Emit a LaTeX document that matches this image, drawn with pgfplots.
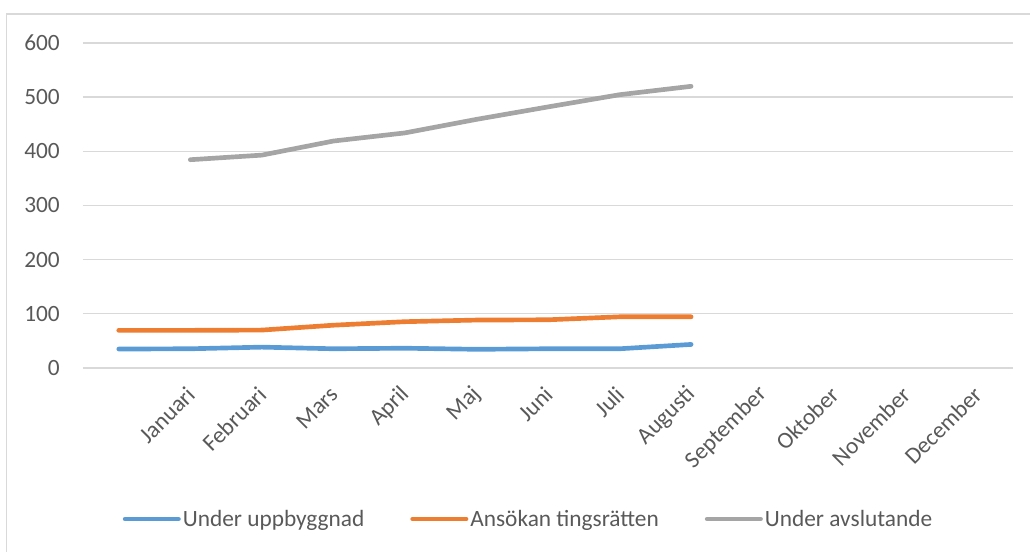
\documentclass[border=0pt]{standalone}
\usepackage{fontspec}
\setmainfont{Carlito}
\usepackage{pgfplots}
\pgfplotsset{compat=1.18}
\definecolor{cblue}{HTML}{5B9BD5}
\definecolor{corange}{HTML}{ED7D31}
\definecolor{cgray}{HTML}{A5A5A5}
\definecolor{cgrid}{HTML}{D9D9D9}
\definecolor{txt}{HTML}{595959}
\begin{document}
\begin{tikzpicture}
\path[use as bounding box] (0pt,0pt) rectangle (772.5pt,414pt);
\draw[cgrid, line width=1pt] (5pt,0pt) -- (5pt,403.5pt) -- (772.5pt,403.5pt);
\begin{axis}[
  at={(62.25pt,138pt)}, anchor=south west,
  scale only axis, width=697.5pt, height=243.75pt,
  xmin=-0.5, xmax=12.5, ymin=0, ymax=600,
  axis line style={draw=none},
  major tick length=0pt,
  xtick={1,...,12},
  xticklabels={Januari,Februari,Mars,April,Maj,Juni,Juli,Augusti,September,Oktober,November,December},
  ytick={0,100,...,600},
  ymajorgrids, xmajorgrids=false, major grid style={draw=cgrid, line width=1pt},
  font=\fontsize{17.5pt}{21pt}\selectfont,
  /pgf/number format/assume math mode=true,
  tick label style={text=txt},
  xticklabel style={anchor=east, inner sep=0pt, xshift=0.5pt, yshift=-17pt, rotate=45},
  yticklabel style={anchor=east, inner sep=0pt, xshift=-17.25pt},
  legend columns=3,
  legend style={at={(0.479,-0.4646)}, anchor=center, draw=none, fill=none,
    font=\fontsize{17.5pt}{21pt}\selectfont, text=txt,
    /tikz/every even column/.append style={column sep=33pt},
    nodes={inner sep=1.5pt}},
  legend image code/.code={\draw[#1, line cap=round] (0pt,0pt) -- (40pt,0pt);},
  every axis plot/.append style={line width=3.5pt, line join=round, line cap=round},
]
\addplot[cblue] coordinates {(0,35) (1,35.5) (2,38.5) (3,35.5) (4,36.5) (5,34.5) (6,35.5) (7,35.5) (8,43.5)};
\addlegendentry{Under uppbyggnad}
\addplot[corange] coordinates {(0,69.5) (1,69.5) (2,70) (3,79) (4,85.5) (5,88.5) (6,89) (7,94.5) (8,94.5)};
\addlegendentry{Ansökan tingsrätten}
\addplot[cgray] coordinates {(1,384.5) (2,393) (3,419) (4,434) (5,459) (6,482) (7,504.5) (8,520)};
\addlegendentry{Under avslutande}
\end{axis}
\end{tikzpicture}
\end{document}
